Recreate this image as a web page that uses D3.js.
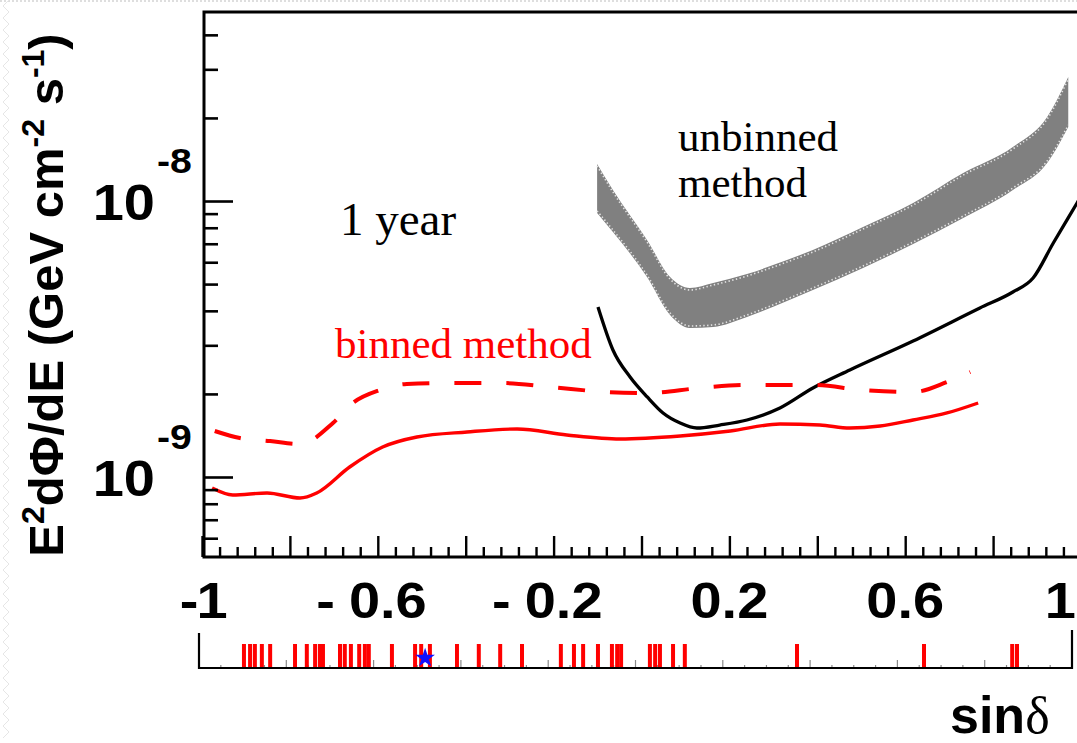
<!DOCTYPE html>
<html>
<head>
<meta charset="utf-8">
<script src="https://cdn.jsdelivr.net/npm/d3@7"></script>
<style>
  html, body { margin: 0; background: #fff; }
  svg { display: block; }
  text { white-space: pre; }
</style>
</head>
<body>
<svg id="chart" width="1077" height="743"></svg>
<script>
// Point-source flux sensitivity versus sin(declination), 1 year of data.
// Flux values are E^2 dPhi/dE in units of 1e-9 GeV cm^-2 s^-1.

// binned method, solid red
const binnedSin  = [-0.977, -0.930, -0.852, -0.777, -0.739, -0.664, -0.589, -0.511, -0.397, -0.283, -0.170, -0.049, 0.088, 0.202, 0.315, 0.406, 0.474, 0.543, 0.618, 0.695, 0.766];
const binnedFlux = [0.912, 0.861, 0.875, 0.839, 0.875, 1.087, 1.284, 1.396, 1.456, 1.493, 1.420, 1.373, 1.408, 1.468, 1.556, 1.543, 1.505, 1.530, 1.609, 1.706, 1.854];

// binned method, dashed red
const binnedDiscSin  = [-0.971, -0.914, -0.845, -0.777, -0.702, -0.657, -0.595, -0.534, -0.436, -0.322, -0.208, -0.079, 0.013, 0.133, 0.240, 0.390, 0.504, 0.618, 0.695, 0.748];
const binnedDiscFlux = [1.468, 1.384, 1.350, 1.317, 1.569, 1.854, 2.067, 2.173, 2.191, 2.191, 2.119, 2.032, 2.015, 2.101, 2.154, 2.154, 2.067, 2.032, 2.209, 2.402];

// unbinned method, black line
const unbinnedSin  = [-0.099, -0.065, -0.026, 0.013, 0.049, 0.088, 0.126, 0.178, 0.240, 0.315, 0.390, 0.474, 0.618, 0.770, 0.845, 0.891, 0.937, 0.991, 1.0];
const unbinnedFlux = [4.13, 2.885, 2.303, 1.950, 1.706, 1.569, 1.505, 1.543, 1.609, 1.778, 2.101, 2.442, 3.110, 4.096, 4.681, 5.260, 7.044, 9.835, 10.4];

// unbinned method, grey band
const bandSin  = [-0.101, -0.065, 0.0125, 0.065, 0.110, 0.163, 0.240, 0.331, 0.390, 0.504, 0.618, 0.732, 0.845, 0.923, 0.971];
const bandHigh = [13.62, 10.96, 7.225, 5.304, 4.839, 5.045, 5.439, 6.113, 6.645, 8.051, 9.835, 12.63, 15.69, 20.15, 28.14];
const bandLow  = [9.05, 7.72, 5.304, 3.864, 3.467, 3.496, 3.800, 4.342, 4.760, 5.718, 6.985, 8.677, 10.96, 13.73, 18.54];

// candidate source declinations (sin delta) and the marked source
const sourceSin = [-0.897, -0.883, -0.872, -0.856, -0.837, -0.780, -0.753, -0.734, -0.723, -0.716, -0.677, -0.666, -0.652, -0.633, -0.620, -0.611, -0.558, -0.505, -0.491, -0.471, -0.409, -0.359, -0.310, -0.260, -0.171, -0.141, -0.120, -0.086, -0.054, -0.042, -0.033, 0.033, 0.045, 0.056, 0.086, 0.113, 0.370, 0.661, 0.863, 0.874];
const markedSin = [-0.482];

// axis tick labels
const xTickValues = [-1, -0.6, -0.2, 0.2, 0.6, 1];
const yTickValues = [1e-9, 1e-8];
const yTickExponents = ["-9", "-8"];

const UNIT = 1e-9;
const svg = d3.select("#chart");

const x = d3.scaleLinear().domain([-1, 1]).range([202, 1081]);
const y = d3.scaleLog().domain([5.13e-10, 4.84e-8]).range([557, 12]);
const xStrip = d3.scaleLinear().domain([-1, 1]).range([199, 1072]);

const sans = "'Liberation Sans', Arial, Helvetica, sans-serif";
const serif = "'Liberation Serif', 'Times New Roman', serif";

// faint page border
svg.append("line").attr("x1", 0).attr("x2", 1077).attr("y1", 1).attr("y2", 1)
  .attr("stroke", "#d4d4d4").attr("stroke-width", 1.5).attr("stroke-dasharray", "2,2");
const zig = d3.range(0, 743, 6).map((v, i) => [i % 2 ? 3 : 9, v]);
svg.append("path").attr("d", d3.line()(zig)).attr("fill", "none")
  .attr("stroke", "#e6e6e6").attr("stroke-width", 1);

// clip to the plotting frame
svg.append("defs").append("clipPath").attr("id", "frame")
  .append("rect").attr("x", 204).attr("y", 12).attr("width", 877).attr("height", 545);
const plot = svg.append("g").attr("clip-path", "url(#frame)");

const zipPts = (s, f) => s.map((v, i) => ({ s: v, f: f[i] * UNIT }));

// grey band with its speckled light edge
const band = bandSin.map((v, i) => ({ s: v, hi: bandHigh[i] * UNIT, lo: bandLow[i] * UNIT }));
plot.append("path")
  .attr("d", d3.area().x(d => x(d.s)).y0(d => y(d.lo)).y1(d => y(d.hi)).curve(d3.curveMonotoneX)(band))
  .attr("fill", "#808080");
[d => d.hi, d => d.lo].forEach((acc, k) => {
  plot.append("path")
    .attr("d", d3.line().x(d => x(d.s)).y(d => y(acc(d)) + (k ? -2 : 2)).curve(d3.curveMonotoneX)(band))
    .attr("fill", "none").attr("stroke", "#e2e2e2").attr("stroke-width", 1.6)
    .attr("stroke-dasharray", "1.4,2.4");
});

const line = d3.line().x(d => x(d.s)).y(d => y(d.f)).curve(d3.curveMonotoneX);

plot.append("path").attr("d", line(zipPts(unbinnedSin, unbinnedFlux)))
  .attr("fill", "none").attr("stroke", "#000").attr("stroke-width", 3.3);

plot.append("path").attr("d", line(zipPts(binnedDiscSin, binnedDiscFlux)))
  .attr("fill", "none").attr("stroke", "#ff0000").attr("stroke-width", 4)
  .attr("stroke-dasharray", "27,25");

plot.append("path").attr("d", line(zipPts(binnedSin, binnedFlux)))
  .attr("fill", "none").attr("stroke", "#ff0000").attr("stroke-width", 3.4);

// x axis ticks (pointing into the frame)
const xMinor = d3.range(0, 51).map(i => -1 + i * 0.04).filter(v => Math.abs(Math.round(v * 5) - v * 5) > 1e-6);
const xMajor = d3.range(0, 11).map(i => -1 + i * 0.2);
svg.append("g").attr("transform", "translate(0,557)")
  .call(d3.axisTop(x).tickValues(xMinor).tickSize(10).tickFormat(""))
  .call(g => g.select(".domain").remove())
  .call(g => g.selectAll("line").attr("stroke-width", 2.4));
svg.append("g").attr("transform", "translate(0,557)")
  .call(d3.axisTop(x).tickValues(xMajor).tickSize(21).tickFormat(""))
  .call(g => g.select(".domain").remove())
  .call(g => g.selectAll("line").attr("stroke-width", 2.4));

// y axis ticks
const yMinor = [6e-10, 7e-10, 8e-10, 9e-10, 2e-9, 3e-9, 4e-9, 5e-9, 6e-9, 7e-9, 8e-9, 9e-9, 2e-8, 3e-8, 4e-8];
svg.append("g").attr("transform", "translate(204,0)")
  .call(d3.axisRight(y).tickValues(yMinor).tickSize(14).tickFormat(""))
  .call(g => g.select(".domain").remove())
  .call(g => g.selectAll("line").attr("stroke-width", 2.6));
svg.append("g").attr("transform", "translate(204,0)")
  .call(d3.axisRight(y).tickValues(yTickValues).tickSize(29).tickFormat(""))
  .call(g => g.select(".domain").remove())
  .call(g => g.selectAll("line").attr("stroke-width", 2.6));

// frame lines
svg.append("path")
  .attr("d", `M1081,12 H204 V557 H1081`)
  .attr("fill", "none").attr("stroke", "#000").attr("stroke-width", 3);

// bold label drawn slightly wide
function wideText(px, py, txt, size, anchor) {
  return svg.append("text")
    .attr("transform", `translate(${px},${py}) scale(1.12,1)`)
    .attr("text-anchor", anchor)
    .attr("font-family", sans).attr("font-weight", "bold").attr("font-size", size)
    .text(txt);
}

// x tick labels; the last one is kept inside the page edge
xTickValues.forEach(v => {
  const neg = v < 0;
  if (v === 1) { wideText(1076, 618, "1", 50, "end"); return; }
  const cx = x(v) + (neg ? 10 : 0);
  const num = wideText(cx, 618, String(Math.abs(v)), 50, "middle");
  if (neg) {
    const w = num.node().getComputedTextLength() * 1.12;
    const gap = Math.abs(v) === 1 ? -2 : 14;
    wideText(cx - w / 2 - gap, 618, "-", 50, "end");
  }
});

// y tick labels: 10 with exponent
yTickValues.forEach((v, i) => {
  const yy = y(v);
  wideText(155, yy + 19, "10", 50, "end");
  wideText(157, yy - 28, yTickExponents[i], 35, "start");
});

// y axis title
const title = svg.append("text")
  .attr("transform", "translate(63,295) rotate(-90)")
  .attr("text-anchor", "middle")
  .attr("font-family", sans).attr("font-weight", "bold").attr("font-size", 49);
title.append("tspan").text("E");
title.append("tspan").attr("font-size", 32).attr("dy", -19).text("2");
title.append("tspan").attr("dy", 19).text("dΦ/dE (GeV cm");
title.append("tspan").attr("font-size", 32).attr("dy", -19).text("-2");
title.append("tspan").attr("dy", 19).text(" s");
title.append("tspan").attr("font-size", 32).attr("dy", -19).text("-1");
title.append("tspan").attr("dy", 19).text(")");

// x axis title
const xt = svg.append("text").attr("x", 950).attr("y", 733).attr("font-size", 52);
xt.append("tspan").attr("font-family", sans).attr("font-weight", "bold").text("sin");
xt.append("tspan").attr("font-family", serif).text("δ");

// source strip
const strip = svg.append("g");
const stripMinor = d3.range(1, 40).map(i => -1 + i * 0.05);
strip.selectAll("line.mt").data(stripMinor).join("line")
  .attr("x1", d => xStrip(d)).attr("x2", d => xStrip(d))
  .attr("y1", 668)
  .attr("y2", d => Math.abs(Math.round(d * 5) - d * 5) < 1e-6 ? 660 : 665)
  .attr("stroke", "#8a8a8a").attr("stroke-width", 1.2);
strip.selectAll("line.src").data(sourceSin).join("line")
  .attr("x1", d => xStrip(d)).attr("x2", d => xStrip(d))
  .attr("y1", 644).attr("y2", 667)
  .attr("stroke", "#ff0000").attr("stroke-width", 4);
strip.append("path").attr("d", "M199,633 V668 H1072 V630")
  .attr("fill", "none").attr("stroke", "#000").attr("stroke-width", 2.2);
strip.selectAll("path.star").data(markedSin).join("path")
  .attr("d", d3.symbol(d3.symbolStar, 120)())
  .attr("transform", d => `translate(${xStrip(d)},658)`)
  .attr("fill", "#1010ff");

// annotations
svg.append("text").attr("x", 340).attr("y", 235)
  .attr("font-family", serif).attr("font-size", 47).attr("fill", "#000").text("1 year");
svg.append("text").attr("x", 335).attr("y", 358)
  .attr("font-family", serif).attr("font-size", 43).attr("fill", "#ff0000").text("binned method");
svg.append("text").attr("x", 678).attr("y", 151)
  .attr("font-family", serif).attr("font-size", 43).attr("fill", "#000").text("unbinned");
svg.append("text").attr("x", 678).attr("y", 197)
  .attr("font-family", serif).attr("font-size", 43).attr("fill", "#000").text("method");
</script>
</body>
</html>
